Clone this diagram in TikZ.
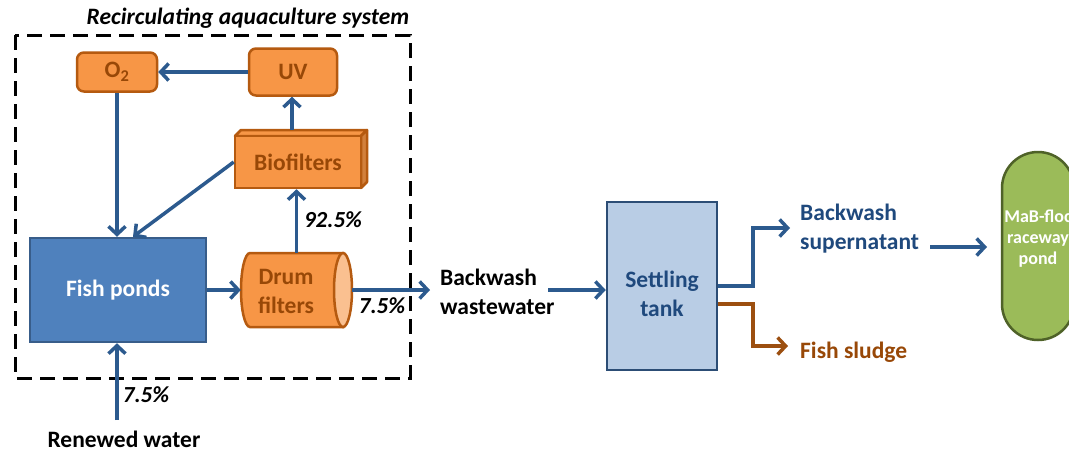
\documentclass[tikz,border=0pt]{standalone}
\usepackage{fontspec}
\setmainfont{Carlito}
\usetikzlibrary{arrows.meta,calc}
\definecolor{arrblue}{HTML}{2C5A8E}
\definecolor{orfill}{HTML}{F79646}
\definecolor{orborder}{HTML}{B55A10}
\definecolor{ortext}{HTML}{984807}
\definecolor{orlight}{HTML}{FAC090}
\definecolor{fishfill}{HTML}{4F81BD}
\definecolor{fishborder}{HTML}{385D8A}
\definecolor{setfill}{HTML}{B9CDE5}
\definecolor{setborder}{HTML}{2C4D75}
\definecolor{settext}{HTML}{1F497D}
\definecolor{brownarr}{HTML}{9C4F10}
\definecolor{pondfill}{HTML}{9BBB59}
\definecolor{pondborder}{HTML}{4F6228}
\tikzset{
  arr/.style={draw=arrblue, line width=3.5pt, -{Straight Barb[length=8pt,width=17pt]}},
  brarr/.style={draw=brownarr, line width=3.5pt, -{Straight Barb[length=8pt,width=17pt]}},
  bigfont/.style={font=\bfseries\fontsize{23.5}{29}\selectfont},
  pct/.style={font=\bfseries\itshape\fontsize{23}{26}\selectfont, text=black},
  orbox/.style={draw=orborder, fill=orfill, line width=2.5pt, rounded corners=7pt, bigfont, text=ortext, inner sep=0pt},
  lbl/.style={bigfont, align=left, inner sep=0pt}
}
\begin{document}
\begin{tikzpicture}[x=1pt,y=-1pt]
\clip (0,0) rectangle (1069,451);
\fill[white] (0,0) rectangle (1069,451);

% title and system boundary
\node[font=\bfseries\itshape\fontsize{23.5}{26}\selectfont] (title) at (248,18) {Recirculating aquaculture system};
\draw[line width=3pt, dash pattern=on 15pt off 8pt] (15,35) rectangle (410,378);

% boxes
\node[orbox, minimum width=80pt, minimum height=39pt] (O2) at (117,72) {O\textsubscript{2}};
\node[orbox, minimum width=88pt, minimum height=47pt] (UV) at (293,72) {UV};

% biofilters cuboid
\draw[draw=orborder, fill=orfill, line width=2.5pt, line join=round] (235,136) -- (241,130) -- (367,130) -- (361,136) -- cycle;
\draw[draw=orborder, fill=orfill!85!black, line width=2.5pt, line join=round] (361,136) -- (367,130) -- (367,182) -- (361,188) -- cycle;
\node[draw=orborder, fill=orfill, line width=2.5pt, minimum width=126pt, minimum height=52pt, bigfont, text=ortext, inner sep=0pt] (bio) at (298,162) {Biofilters};
\coordinate (biotop) at (292,130);

\node[draw=fishborder, fill=fishfill, line width=2.5pt, minimum width=176pt, minimum height=104pt, bigfont, text=white] (fish) at (118,290) {Fish ponds};

% drum filter cylinder
\draw[draw=orborder, fill=orfill, line width=2.5pt] (343,253) -- (250,253) arc[start angle=270, end angle=90, x radius=9, y radius=37] -- (343,327) -- cycle;
\draw[draw=orborder, fill=orlight, line width=2.5pt] (343,290) ellipse[x radius=9, y radius=37];
\node[minimum width=111pt, minimum height=74pt, inner sep=0pt] (drum) at (296.5,290) {};
\node[bigfont, text=ortext, align=center, inner sep=0pt] (drumlbl) at (286,291) {Drum\\filters};

\node[draw=setborder, fill=setfill, line width=2.5pt, minimum width=110pt, minimum height=168pt] (settle) at (662,286) {};
\node[bigfont, text=settext, align=center, inner sep=0pt] (settlelbl) at (662,294) {Settling\\tank};

\node[draw=pondborder, fill=pondfill, line width=2.5pt, minimum width=72pt, minimum height=188pt, rounded corners=36pt] (pond) at (1038,246) {};
\node[font=\bfseries\fontsize{18}{21}\selectfont, text=white, align=center, inner sep=0pt] (pondlbl) at (1038,239) {MaB-floc\\raceway\\pond};

% text nodes
\node[lbl, anchor=west] (bww) at (440,292) {Backwash\\wastewater};
\node[lbl, anchor=west, text=settext] (bsup) at (800,229) {Backwash\\supernatant};
\node[lbl, anchor=west, text=ortext] (sludge) at (800,352) {Fish sludge};
\node[lbl] (renew) at (124,439) {Renewed water};
\coordinate (renewtop) at (117,420);

% connectors
\draw[arr] (UV.west) -- (O2.east);
\draw[arr] (biotop) -- (biotop |- UV.south);
\draw[arr] (O2.south) -- (O2.south |- fish.north);
\draw[arr] (bio.west) -- ($(fish.north)+(15,0)$);
\draw[arr] (fish.east) -- (drum.west);
\draw[arr] (drum.north) -- (drum.north |- bio.south);
\coordinate (bwwin) at (430,290);
\draw[arr] (drum.east) -- (bwwin);
\draw[arr] (renewtop) -- (renewtop |- fish.south);
\coordinate (bwwout) at (548,290);
\draw[arr] (bwwout) -- (bwwout -| settle.west);
\coordinate (brj) at (753,286);
\coordinate (supend) at (790,228);
\draw[arr] (settle.east |- brj) -- (brj) -- (brj |- supend) -- (supend);
\coordinate (slj) at (753,304);
\coordinate (slend) at (788,346);
\draw[brarr] (settle.east |- slj) -- (slj) -- (slj |- slend) -- (slend);
\coordinate (supout) at (930,247);
\draw[arr] (supout) -- (supout -| 987,0);

% percentage labels
\node[pct] (p925) at (333,220) {92.5\%};
\node[pct] (p75a) at (382,306) {7.5\%};
\node[pct] (p75b) at (146,395) {7.5\%};
\end{tikzpicture}
\end{document}
